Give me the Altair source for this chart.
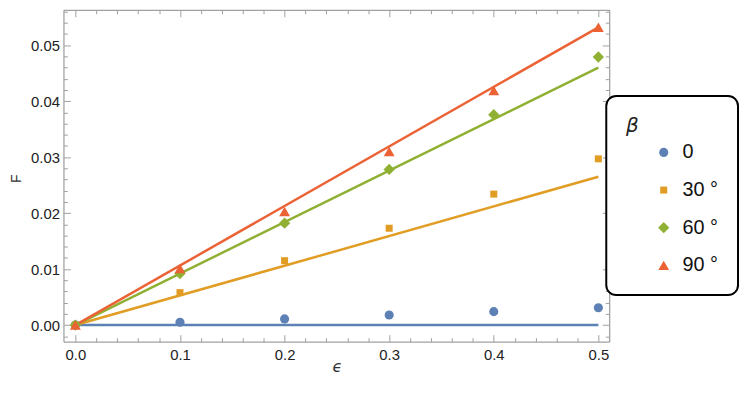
import altair as alt
import pandas as pd

# ---- data ----
eps = [0.0, 0.1, 0.2, 0.3, 0.4, 0.5]
beta_labels = ["0", "30 °", "60 °", "90 °"]
F_b0 = [0.0, 0.0005, 0.0011, 0.0018, 0.0024, 0.0031]
F_b30 = [0.0, 0.0058, 0.0115, 0.0173, 0.0234, 0.0297]
F_b60 = [0.0, 0.0092, 0.0182, 0.0278, 0.0376, 0.0479]
F_b90 = [0.0, 0.0101, 0.0203, 0.0310, 0.0419, 0.0532]
line_eps = [0.0, 0.5]
line_b0 = [0.0, 0.0]
line_b30 = [0.0, 0.0265]
line_b60 = [0.0, 0.0460]
line_b90 = [0.0, 0.0532]

colors = ["#5E81B5", "#E19C24", "#8FB032", "#EB6235"]
shapes = ["circle", "square", "diamond", "triangle-up"]
sizes = [85, 50, 130, 120]

x_major = [0.0, 0.1, 0.2, 0.3, 0.4, 0.5]
y_major = [0.0, 0.01, 0.02, 0.03, 0.04, 0.05]
x_minor = [round(i * 0.02, 3) for i in range(0, 26) if i % 5 != 0]
y_minor = [round(i * 0.002, 4) for i in range(-1, 29) if i % 5 != 0]

x_domain = [-0.0114, 0.5104]
y_domain = [-0.00296, 0.05633]

series = [F_b0, F_b30, F_b60, F_b90]
lines = [line_b0, line_b30, line_b60, line_b90]

pts = pd.DataFrame([
    {"eps": e, "F": v, "beta": b}
    for b, s in zip(beta_labels, series)
    for e, v in zip(eps, s)
])
lns = pd.DataFrame([
    {"eps": e, "F": v, "beta": b}
    for b, s in zip(beta_labels, lines)
    for e, v in zip(line_eps, s)
])

FONT = "Liberation Sans"
TICK_COLOR = "#a0a0a0"

xscale = alt.Scale(domain=x_domain, nice=False, zero=False)
yscale = alt.Scale(domain=y_domain, nice=False, zero=False)


def ax(orient, values, size, labels=False, fmt=None, title=None, **kw):
    args = dict(
        orient=orient, values=values, tickSize=size, offset=-size,
        domain=False, grid=False, labels=labels, tickColor=TICK_COLOR,
        tickWidth=1, title=title,
    )
    if fmt:
        args["format"] = fmt
    args.update(kw)
    return alt.Axis(**args)


x_main = ax("bottom", x_major, 7, labels=True, fmt=".1f", title="ϵ",
            labelPadding=6, labelFont=FONT, labelFontSize=15, labelColor="#222",
            titleFont="DejaVu Sans", titleFontSize=16, titleFontStyle="italic",
            titleFontWeight="normal", titleColor="#333",
            titleX=276, titleY=32, titleBaseline="middle")
y_main = ax("left", y_major, 7, labels=True, fmt=".2f", title="F",
            labelPadding=4, labelFont=FONT, labelFontSize=15, labelColor="#222",
            titleFont=FONT, titleFontSize=14, titleFontWeight="normal",
            titleColor="#333", titleX=-54, titleY=170, titleAngle=-90,
            titleBaseline="middle", titleAlign="center")

legend = alt.Legend(
    orient="none", legendX=548, legendY=87, title="β",
    titleFont="DejaVu Sans", titleFontSize=20, titleFontStyle="italic",
    titleFontWeight="normal", titleColor="#222", titlePadding=7,
    labelFont=FONT, labelFontSize=20, labelColor="#111", labelOffset=9,
    padding=20, strokeColor="black", cornerRadius=10, fillColor="white",
    rowPadding=18, symbolOffset=28, symbolStrokeWidth=0,
)

# line colours: data-driven domain (sorted order equals beta_labels order),
# so the hidden stroke legend is not merged with the visible legend
line_layer = alt.Chart(lns).mark_line(strokeWidth=2.5).encode(
    x=alt.X("eps:Q", scale=xscale, axis=x_main),
    y=alt.Y("F:Q", scale=yscale, axis=y_main),
    stroke=alt.Stroke("beta:N", scale=alt.Scale(range=colors), legend=None),
    detail="beta:N",
    order="eps:Q",
)

point_layer = alt.Chart(pts).mark_point(filled=True, opacity=1, strokeWidth=0).encode(
    x=alt.X("eps:Q", scale=xscale, axis=ax("bottom", x_minor, 4)),
    y=alt.Y("F:Q", scale=yscale, axis=ax("left", y_minor, 4)),
    color=alt.Color("beta:N", scale=alt.Scale(domain=beta_labels, range=colors),
                    legend=legend),
    shape=alt.Shape("beta:N", scale=alt.Scale(domain=beta_labels, range=shapes),
                    legend=legend),
    size=alt.Size("beta:N", scale=alt.Scale(type="ordinal", domain=beta_labels,
                                            range=sizes),
                  legend=legend),
)

top_major = alt.Chart(pts).mark_point(opacity=0).encode(
    x=alt.X("eps:Q", scale=xscale, axis=ax("top", x_major, 7)),
    y=alt.Y("F:Q", scale=yscale, axis=ax("right", y_major, 7)),
)
top_minor = alt.Chart(pts).mark_point(opacity=0).encode(
    x=alt.X("eps:Q", scale=xscale, axis=ax("top", x_minor, 4)),
    y=alt.Y("F:Q", scale=yscale, axis=ax("right", y_minor, 4)),
)

chart = (
    alt.layer(line_layer, point_layer, top_major, top_minor)
    .resolve_axis(x="independent", y="independent")
    .properties(
        width=551, height=335,
        autosize=alt.AutoSizeParams(type="none"),
        padding={"left": 56, "top": 0, "right": 131, "bottom": 45},
        background="white",
    )
    .configure_view(stroke="#888888", strokeWidth=1)
    .configure_legend(strokeWidth=2)
)

chart.save("out.html", embed_options={"renderer": "svg", "actions": False})
